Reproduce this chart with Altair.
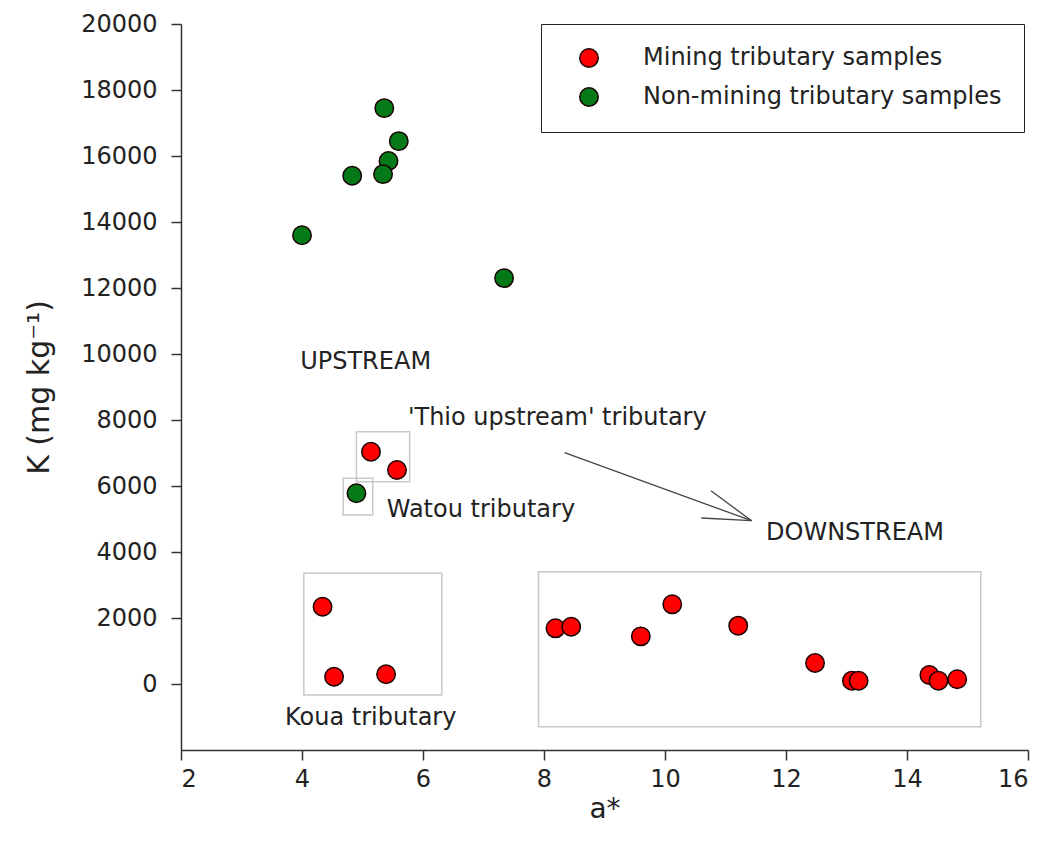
import altair as alt
import pandas as pd

# --- data ---
mining_x = [5.14, 5.57, 4.34, 4.53, 5.39, 8.19, 8.45, 9.60, 10.12, 11.21, 12.48, 13.09, 13.20, 14.37, 14.52, 14.83]
mining_y = [7040, 6485, 2343, 221, 294, 1687, 1737, 1444, 2414, 1768, 636, 100, 100, 273, 100, 142]
nonmining_x = [5.36, 5.60, 5.43, 5.34, 4.83, 4.00, 7.34, 4.90]
nonmining_y = [17450, 16450, 15850, 15450, 15400, 13600, 12300, 5780]

series_names = ["Mining tributary samples", "Non-mining tributary samples"]
series_colors = ["#ff0000", "#037a17"]

box_x1 = [4.90, 4.68, 4.03, 7.91]
box_x2 = [5.78, 5.17, 6.31, 15.22]
box_y1 = [7645, 6233, 3355, 3403]
box_y2 = [6130, 5121, -333, -1294]

label_text = ["UPSTREAM", "'Thio upstream' tributary", "Watou tributary", "DOWNSTREAM", "Koua tributary"]
label_x = [3.97, 5.75, 5.40, 11.67, 3.72]
label_y = [9758, 8060, 5270, 4575, -1030]

arrow_x1 = [8.34, 10.76, 10.60]
arrow_y1 = [7009, 5858, 5030]
arrow_x2 = [11.43, 11.43, 11.43]
arrow_y2 = [4948, 4948, 4948]

x_ticks = [2, 4, 6, 8, 10, 12, 14, 16]
y_ticks = [0, 2000, 4000, 6000, 8000, 10000, 12000, 14000, 16000, 18000, 20000]

FONT = "DejaVu Sans"

points = pd.DataFrame({
    "a": mining_x + nonmining_x,
    "K": mining_y + nonmining_y,
    "group": [series_names[0]] * len(mining_x) + [series_names[1]] * len(nonmining_x),
})
boxes = pd.DataFrame({"x1": box_x1, "x2": box_x2, "y1": box_y1, "y2": box_y2})
labels = pd.DataFrame({"t": label_text, "x": label_x, "y": label_y})
arrows = pd.DataFrame({"x1": arrow_x1, "y1": arrow_y1, "x2": arrow_x2, "y2": arrow_y2})

xscale = alt.Scale(domain=[2, 16], nice=False, zero=False)
yscale = alt.Scale(domain=[-2000, 20000], nice=False, zero=False)

xaxis = alt.Axis(title="a*", values=x_ticks, format="d", grid=False)
yaxis = alt.Axis(title="K (mg kg⁻¹)", values=y_ticks, format="d", grid=False)

box_layer = alt.Chart(boxes).mark_rect(fill=None, stroke="#c8c8c8", strokeWidth=1.5).encode(
    x=alt.X("x1:Q", scale=xscale, axis=xaxis),
    x2="x2:Q",
    y=alt.Y("y1:Q", scale=yscale, axis=yaxis),
    y2="y2:Q",
)

arrow_layer = alt.Chart(arrows).mark_rule(color="#444444", strokeWidth=1.3).encode(
    x=alt.X("x1:Q", scale=xscale),
    y=alt.Y("y1:Q", scale=yscale),
    x2="x2:Q",
    y2="y2:Q",
)

point_layer = alt.Chart(points).mark_point(
    filled=True, shape="circle", size=340, stroke="#1a0000", strokeWidth=1.5, opacity=1
).encode(
    x=alt.X("a:Q", scale=xscale),
    y=alt.Y("K:Q", scale=yscale),
    fill=alt.Fill(
        "group:N",
        scale=alt.Scale(domain=series_names, range=series_colors),
        legend=alt.Legend(
            title=None,
            orient="none",
            legendX=360,
            legendY=0,
            padding=22,
            strokeColor="#222222",
            fillColor="white",
            symbolType="circle",
            symbolSize=340,
            symbolStrokeColor="#1a0000",
            symbolStrokeWidth=1.5,
            symbolOffset=14,
            labelOffset=42,
            labelFont=FONT,
            labelFontSize=24,
            labelColor="#222222",
            labelLimit=500,
            rowPadding=13,
        ),
    ),
)

text_layer = alt.Chart(labels).mark_text(
    align="left", baseline="middle", font=FONT, fontSize=24, color="#222222"
).encode(
    x=alt.X("x:Q", scale=xscale),
    y=alt.Y("y:Q", scale=yscale),
    text="t:N",
)

chart = alt.layer(box_layer, arrow_layer, point_layer, text_layer).properties(
    width=847,
    height=726,
    autosize=alt.AutoSizeParams(type="none"),
    padding={"left": 173, "top": 16, "right": 10, "bottom": 90},
).configure_view(stroke=None).configure_axis(
    domainColor="#333333",
    domainWidth=1.5,
    tickColor="#333333",
    tickWidth=1.5,
    tickSize=10,
    labelFont=FONT,
    labelFontSize=24,
    labelColor="#222222",
    titleFont=FONT,
    titleFontSize=28,
    titleFontWeight="normal",
    titleColor="#222222",
).configure_axisX(
    labelPadding=7,
    titlePadding=4,
).configure_axisY(
    labelPadding=14,
    titlePadding=26,
    titleFontSize=30,
)

chart.save("out.html", embed_options={"renderer": "svg", "actions": False})
